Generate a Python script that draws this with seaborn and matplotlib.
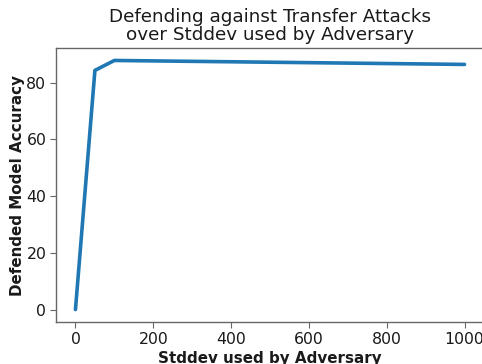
import matplotlib
matplotlib.use("Agg")
import matplotlib.pyplot as plt
import seaborn as sns
import pandas as pd

# Accuracy of the defended model against transfer attacks, per adversary stddev
stddev = [0, 50, 100, 1000]
accuracy = [0.0, 84.3, 87.8, 86.4]

sns.set_style("white", {"axes.edgecolor": ".4", "xtick.bottom": True, "ytick.left": True,
                        "xtick.color": ".4", "ytick.color": ".4", "text.color": ".1",
                        "axes.labelcolor": ".1"})
plt.rcParams["font.family"] = ["DejaVu Sans"]

df = pd.DataFrame({"Stddev used by Adversary": stddev, "Defended Model Accuracy": accuracy})

fig = plt.figure(figsize=(4.82, 3.64), dpi=100)
ax = fig.add_axes([56 / 482, 1 - 322 / 364, 428 / 482, 274 / 364])

sns.lineplot(data=df, x="Stddev used by Adversary", y="Defended Model Accuracy",
             ax=ax, color="#1f77b4", linewidth=2.6)

ax.set_title("Defending against Transfer Attacks\nover Stddev used by Adversary",
             fontsize=13.2, color=".1", pad=5.5, linespacing=1.05)
ax.set_xlabel("Stddev used by Adversary", fontsize=10.9, fontweight="bold", labelpad=3)
ax.set_ylabel("Defended Model Accuracy", fontsize=10.9, fontweight="bold", labelpad=1)
ax.tick_params(labelsize=11.3, length=4, width=0.8, colors=".4", labelcolor=".1", pad=3)
ax.set_xticks([0, 200, 400, 600, 800, 1000])
ax.set_yticks([0, 20, 40, 60, 80])
for s in ax.spines.values():
    s.set_linewidth(1.0)

fig.savefig("out.png", dpi=100)
